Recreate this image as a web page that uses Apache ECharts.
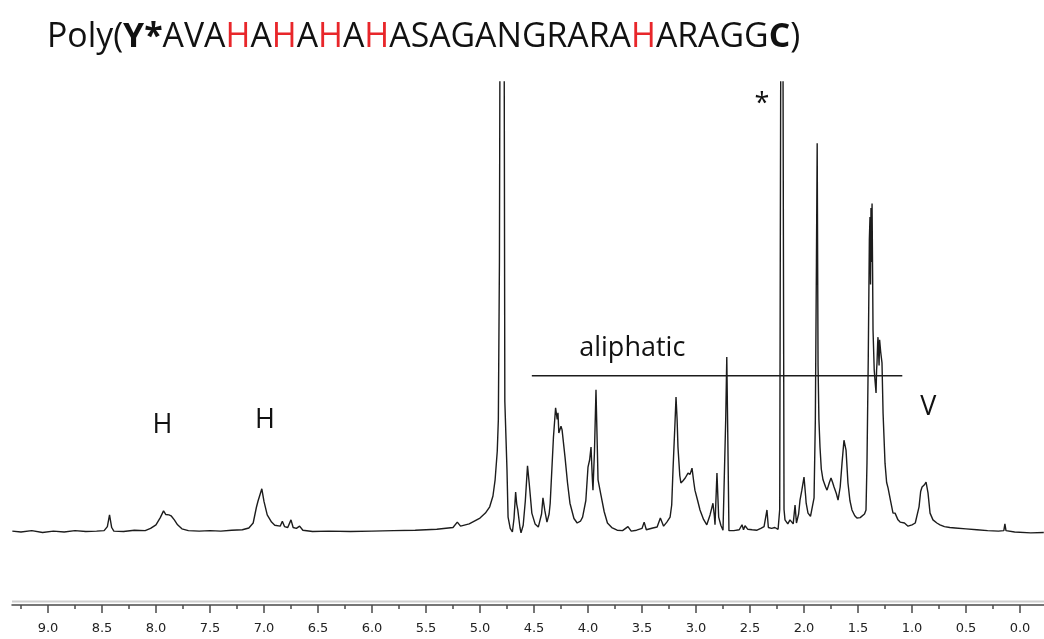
<!DOCTYPE html>
<html>
<head>
<meta charset="utf-8">
<title>1H NMR spectrum</title>
<script src="https://cdn.jsdelivr.net/npm/echarts@6/dist/echarts.min.js"></script>
<style>
  html, body { margin: 0; padding: 0; background: #fff; }
  #chart { width: 1044px; height: 639px; }
</style>
</head>
<body>
<div id="chart"></div>
<script>
// Chemical shift (ppm) of each sampled point, high field to the right.
const shiftPpm = [
  9.33, 9.25, 9.15, 9.05, 8.95, 8.85, 8.75, 8.65, 8.55, 8.48, 8.45, 8.43, 8.41, 8.39, 8.30, 8.20, 8.10,
  8.05, 8.00, 7.96, 7.93, 7.91, 7.88, 7.86, 7.83, 7.80, 7.76, 7.70, 7.60, 7.50, 7.40, 7.30, 7.20,
  7.14, 7.10, 7.07, 7.055, 7.04, 7.02, 7.00, 6.97, 6.93, 6.90, 6.85, 6.83, 6.81, 6.78, 6.75, 6.73,
  6.70, 6.67, 6.64, 6.55, 6.40, 6.20, 6.00, 5.80, 5.60, 5.40, 5.25, 5.21, 5.18, 5.10, 5.00, 4.95,
  4.91, 4.88, 4.86, 4.84, 4.83, 4.82, 4.81, 4.80, 4.78, 4.77, 4.75, 4.74, 4.72, 4.70, 4.685, 4.67,
  4.66, 4.65, 4.63, 4.62, 4.60, 4.58, 4.56, 4.545, 4.52, 4.49, 4.46, 4.43, 4.417, 4.40, 4.38, 4.36,
  4.35, 4.32, 4.30, 4.285, 4.278, 4.27, 4.25, 4.24, 4.213, 4.19, 4.167, 4.13, 4.10, 4.07, 4.05, 4.02,
  4.00, 3.985, 3.972, 3.96, 3.954, 3.94, 3.926, 3.915, 3.907, 3.88, 3.85, 3.82, 3.78, 3.73, 3.68, 3.63,
  3.60, 3.55, 3.50, 3.48, 3.46, 3.40, 3.36, 3.33, 3.30, 3.27, 3.24, 3.225, 3.213, 3.195, 3.185, 3.175,
  3.167, 3.15, 3.14, 3.12, 3.10, 3.085, 3.074, 3.055, 3.037, 3.02, 3.01, 2.985, 2.963, 2.93, 2.90, 2.87,
  2.843, 2.83, 2.824, 2.806, 2.79, 2.77, 2.75, 2.735, 2.725, 2.715, 2.705, 2.695, 2.685, 2.65, 2.60, 2.574,
  2.56, 2.546, 2.52, 2.48, 2.435, 2.40, 2.37, 2.343, 2.33, 2.30, 2.27, 2.24, 2.225, 2.215, 2.205, 2.195,
  2.185, 2.176, 2.15, 2.13, 2.10, 2.083, 2.07, 2.05, 2.037, 2.02, 2.00, 1.985, 1.98, 1.963, 1.94, 1.926,
  1.907, 1.895, 1.885, 1.878, 1.87, 1.862, 1.852, 1.84, 1.824, 1.80, 1.787, 1.765, 1.75, 1.735, 1.722, 1.70,
  1.685, 1.665, 1.648, 1.63, 1.611, 1.593, 1.575, 1.556, 1.53, 1.51, 1.48, 1.463, 1.44, 1.426, 1.417, 1.405,
  1.395, 1.389, 1.384, 1.38, 1.375, 1.37, 1.365, 1.361, 1.35, 1.343, 1.333, 1.328, 1.324, 1.318, 1.315, 1.305,
  1.30, 1.29, 1.278, 1.268, 1.25, 1.235, 1.222, 1.20, 1.176, 1.157, 1.13, 1.11, 1.07, 1.037, 1.00, 0.97,
  0.954, 0.935, 0.92, 0.907, 0.898, 0.885, 0.87, 0.852, 0.833, 0.806, 0.77, 0.741, 0.70, 0.65, 0.60, 0.50,
  0.40, 0.30, 0.20, 0.15, 0.14, 0.13, 0.05, -0.10, -0.22
];

// Signal intensity at each shift (arbitrary units, baseline = 0).
const signal = [
  0.2, 0.0, 0.3, -0.1, 0.2, 0.0, 0.3, 0.1, 0.2, 0.3, 1.2, 3.8, 1.0, 0.2, 0.1, 0.4, 0.3,
  0.8, 1.6, 3.2, 4.7, 3.9, 3.8, 3.6, 2.7, 1.6, 0.7, 0.3, 0.2, 0.3, 0.2, 0.4, 0.5,
  0.9, 2.0, 5.5, 6.9, 6.5, 9.6, 6.8, 3.8, 2.2, 1.5, 1.3, 2.4, 1.2, 1.0, 2.7, 1.0,
  0.8, 1.3, 0.4, 0.1, 0.2, 0.1, 0.2, 0.3, 0.4, 0.6, 1.0, 2.2, 1.3, 1.8, 3.1, 4.2,
  5.6, 8.0, 11.6, 18, 25, 60, 160, 400, 160, 29, 13.8, 3.3, 0.8, 0.0, 3.0, 8.9,
  6.2, 4.9, 1.0, -0.2, 1.5, 7.0, 14.7, 11.0, 4.2, 1.8, 1.1, 4.0, 7.6, 4.8, 2.2, 4.0,
  6.4, 21, 27.6, 25, 26.5, 22, 23.5, 22.7, 16.7, 11, 6.4, 3.0, 2.0, 2.4, 3.3, 7.0,
  14.4, 16, 18.9, 12, 9.3, 18, 31.6, 20, 11.6, 8.2, 4.5, 2.0, 1.0, 0.4, 0.3, 1.2,
  0.2, 0.4, 0.8, 2.2, 0.5, 0.9, 1.1, 3.1, 1.3, 2.2, 3.3, 6.0, 13.8, 24, 30, 25,
  18.9, 12.5, 10.9, 11.4, 12, 11.8, 13.1, 12.8, 14.2, 11, 9.3, 7.0, 4.9, 2.8, 1.6, 3.8,
  6.4, 3.5, 1.6, 13.1, 3.3, 1.5, 0.4, 0.6, 25, 38.9, 20, 0.3, 0.0, 0.3, 0.5, 1.6,
  0.5, 1.4, 0.6, 0.5, 0.4, 0.8, 1.2, 4.9, 1.0, 0.8, 1.0, 0.6, 5.0, 110, 130, 110,
  5.0, 2.7, 1.8, 2.7, 1.8, 6.0, 2.0, 4.0, 7.1, 9.3, 12.2, 8.0, 6.4, 4.2, 3.5, 3.3,
  7.6, 25, 60, 86.4, 37, 25, 18.9, 14, 11.6, 10, 9.3, 11, 12, 11, 10, 8.5,
  7.1, 10, 15.3, 20.4, 18.2, 10.9, 7.0, 4.9, 3.6, 3.1, 3.2, 3.3, 4.0, 4.9, 15.3, 38.9,
  65, 70, 55, 72, 60, 73, 58, 44.9, 36, 33.8, 30.9, 36, 37.6, 42, 43.3, 37,
  42.7, 40, 37.6, 26.4, 15.3, 11, 9.8, 7.1, 4.2, 4.2, 2.7, 2.2, 2.0, 1.3, 1.6, 2.0,
  2.0, 5.6, 9.0, 10, 9.6, 10.5, 11.1, 8.7, 4.2, 2.7, 2.0, 1.6, 1.2, 1.0, 0.9, 0.7,
  0.5, 0.3, 0.2, 0.3, 1.8, 0.3, 0.0, -0.2, -0.1
];

// Axis tick values (ppm).
const majorTicks = [0, 0.5, 1, 1.5, 2, 2.5, 3, 3.5, 4, 4.5, 5, 5.5, 6, 6.5, 7, 7.5, 8, 8.5, 9];
const minorTicks = [0.25, 0.75, 1.25, 1.75, 2.25, 2.75, 3.25, 3.75, 4.25, 4.75, 5.25, 5.75, 6.25, 6.75, 7.25, 7.75, 8.25, 8.75, 9.25];

// Peak group annotations and the aliphatic region bar.
const peakLabels = [
  { text: 'H', ppm: 7.94, height: 23.8 },
  { text: 'H', ppm: 6.99, height: 24.9 },
  { text: 'V', ppm: 0.85, height: 27.6 },
  { text: 'aliphatic', ppm: 3.59, height: 40.9 },
  { text: '*', ppm: 2.39, height: 95.0 }
];
const aliphaticRange = [4.52, 1.09];
const aliphaticLevel = 34.7;

const spectrum = shiftPpm.map((x, i) => [x, signal[i]]);

const X_MIN = -0.222, X_MAX = 9.333;
const TITLE_SIZE = 33.8;
const chart = echarts.init(document.getElementById('chart'), null, { renderer: 'canvas' });

chart.setOption({
  animation: false,
  backgroundColor: '#ffffff',
  title: {
    left: 42,
    top: 15,
    text: 'Poly({b|Y*}AVA{r|H}A{r|H}A{r|H}A{r|H}ASAGANGRARA{r|H}ARAGG{b|C})',
    textStyle: {
      fontFamily: 'Open Sans',
      fontSize: TITLE_SIZE,
      fontWeight: 'normal',
      color: '#111',
      rich: {
        b: { fontFamily: 'Open Sans', fontSize: TITLE_SIZE, fontWeight: 'bold', color: '#111' },
        r: { fontFamily: 'Open Sans', fontSize: TITLE_SIZE, color: '#e8262a' }
      }
    }
  },
  grid: { left: 12, right: 0, top: 82, bottom: 34, containLabel: false },
  xAxis: [
    {
      type: 'value', inverse: true, min: X_MIN, max: X_MAX, position: 'bottom',
      axisLine: { show: true, onZero: false, lineStyle: { color: '#4a4a4a', width: 1.5 } },
      axisTick: { show: true, inside: false, customValues: majorTicks, length: 8, lineStyle: { color: '#4a4a4a', width: 1.5 } },
      axisLabel: {
        show: true, customValues: majorTicks, margin: 17,
        formatter: v => Number(v).toFixed(1),
        fontFamily: 'DejaVu Sans', fontSize: 13, color: '#222'
      },
      splitLine: { show: false }
    },
    {
      type: 'value', inverse: true, min: X_MIN, max: X_MAX, position: 'bottom',
      axisLine: { show: false, onZero: false },
      axisTick: { show: true, inside: false, customValues: minorTicks, length: 4, lineStyle: { color: '#4a4a4a', width: 1.5 } },
      axisLabel: { show: false },
      splitLine: { show: false }
    }
  ],
  yAxis: { type: 'value', min: -16.22, max: 100, show: false },
  graphic: [
    {
      type: 'line', silent: true,
      shape: { x1: 12, y1: 601.5, x2: 1044, y2: 601.5 },
      style: { stroke: '#cfcfcf', lineWidth: 2 }
    }
  ],
  series: [
    {
      name: 'spectrum', type: 'line', xAxisIndex: 0, data: spectrum,
      showSymbol: false, clip: true, smooth: false,
      lineStyle: { color: '#1c1c1c', width: 1.4 }
    },
    {
      name: 'aliphatic region', type: 'line', xAxisIndex: 0,
      data: [[aliphaticRange[0], aliphaticLevel], [aliphaticRange[1], aliphaticLevel]],
      showSymbol: false, lineStyle: { color: '#1c1c1c', width: 1.5 }
    },
    {
      name: 'labels', type: 'scatter', xAxisIndex: 0, symbolSize: 0,
      data: peakLabels.map(p => ({ value: [p.ppm, p.height], name: p.text })),
      itemStyle: { opacity: 1 },
      label: {
        show: true, position: 'inside', formatter: p => p.name,
        fontFamily: 'Open Sans', fontSize: 27, color: '#111', opacity: 1
      }
    }
  ]
});
</script>
</body>
</html>
